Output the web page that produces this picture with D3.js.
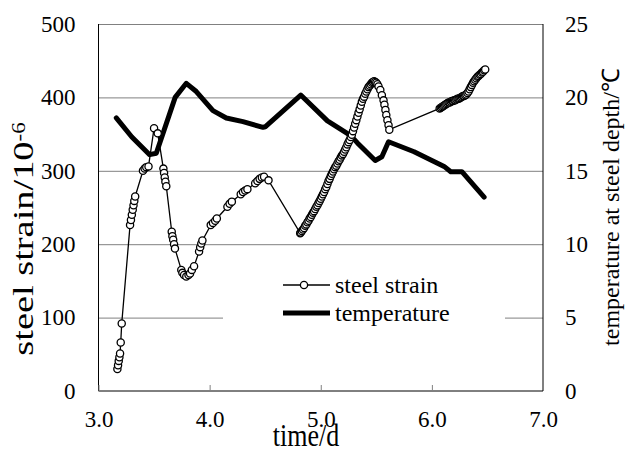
<!DOCTYPE html>
<svg width="625" height="452"></svg>
<script src="https://d3js.org/d3.v7.min.js"></script>
<script>
// steel strain readings [time/d, strain x10^-6]
var strain = [
  [3.170, 30], [3.176, 35], [3.182, 41], [3.188, 46], [3.194, 51], [3.200, 66], [3.209, 92],
  [3.284, 226], [3.292, 233], [3.300, 240], [3.308, 247], [3.315, 253], [3.322, 259], [3.330, 265],
  [3.400, 300], [3.415, 303], [3.430, 305], [3.450, 306],
  [3.500, 358], [3.533, 351],
  [3.584, 303], [3.590, 297], [3.596, 291], [3.602, 285], [3.610, 279],
  [3.659, 217], [3.665, 211], [3.672, 206], [3.680, 200], [3.688, 194],
  [3.745, 165], [3.755, 161], [3.770, 158], [3.790, 156], [3.810, 158], [3.824, 160], [3.840, 165], [3.860, 170],
  [3.905, 190], [3.915, 196], [3.925, 201], [3.935, 205],
  [4.010, 226], [4.030, 229], [4.050, 232], [4.065, 235],
  [4.160, 251], [4.180, 255], [4.200, 258],
  [4.280, 268], [4.300, 271], [4.320, 273], [4.340, 275],
  [4.410, 283], [4.430, 286], [4.450, 289], [4.470, 291], [4.490, 292],
  [4.530, 287],
  [4.815, 215], [4.82, 216], [4.83, 218], [4.84, 220], [4.85, 222], [4.86, 225], [4.87, 227],
  [4.88, 230], [4.89, 232], [4.90, 235], [4.91, 237], [4.92, 240], [4.93, 243], [4.94, 245],
  [4.95, 248], [4.96, 251], [4.97, 253], [4.98, 256], [4.99, 259], [5.00, 262], [5.01, 265],
  [5.02, 268], [5.03, 271], [5.04, 275], [5.05, 278], [5.06, 282], [5.07, 286], [5.08, 289],
  [5.09, 293], [5.10, 296], [5.11, 299], [5.12, 302], [5.13, 305], [5.14, 307], [5.15, 310],
  [5.16, 313], [5.17, 315], [5.18, 318], [5.19, 321], [5.20, 323], [5.21, 326], [5.22, 329],
  [5.23, 332], [5.24, 336], [5.25, 339], [5.26, 342], [5.27, 346], [5.28, 349], [5.29, 354],
  [5.30, 359], [5.31, 364], [5.32, 369], [5.33, 374], [5.34, 379], [5.35, 384], [5.36, 389],
  [5.37, 394], [5.38, 398], [5.39, 401], [5.40, 405], [5.41, 408], [5.42, 411], [5.43, 414],
  [5.44, 416], [5.45, 418], [5.46, 420], [5.47, 421], [5.48, 422], [5.49, 421], [5.50, 420],
  [5.51, 418], [5.52, 415],
  [5.536, 410], [5.550, 403], [5.565, 396], [5.573, 390], [5.582, 383], [5.590, 376],
  [5.600, 369], [5.610, 362], [5.617, 356],
  [6.07, 385], [6.08, 386], [6.09, 387], [6.10, 388], [6.11, 389], [6.12, 390], [6.13, 391],
  [6.14, 392], [6.15, 393], [6.16, 393], [6.17, 394], [6.18, 395], [6.19, 395], [6.20, 396],
  [6.21, 396], [6.22, 397], [6.23, 398], [6.24, 398], [6.25, 399], [6.26, 400], [6.27, 401],
  [6.28, 402], [6.29, 402], [6.30, 403], [6.31, 404], [6.32, 406], [6.33, 408], [6.34, 411],
  [6.35, 414], [6.36, 417], [6.37, 420], [6.38, 422], [6.39, 424], [6.40, 426], [6.41, 428],
  [6.42, 429], [6.43, 431], [6.44, 432], [6.45, 434], [6.46, 435], [6.47, 437], [6.48, 438]
];

// temperature at steel depth [time/d, degC]
var temperature = [
  [3.16, 18.6], [3.30, 17.3], [3.46, 16.1], [3.52, 16.2], [3.69, 20.0], [3.79, 20.96],
  [3.88, 20.4], [4.03, 19.1], [4.15, 18.6], [4.30, 18.35], [4.48, 17.96], [4.50, 18.0],
  [4.82, 20.16], [5.06, 18.4], [5.27, 17.4], [5.33, 16.9], [5.49, 15.7], [5.55, 15.96],
  [5.61, 16.98], [5.84, 16.3], [6.11, 15.3], [6.17, 14.94], [6.27, 14.94], [6.47, 13.2]
];

var timeTicks = [3, 4, 5, 6, 7];
var strainTicks = [0, 100, 200, 300, 400, 500];
var tempTicks = [0, 5, 10, 15, 20, 25];

var serif = "'Liberation Serif'";

d3.select("body").style("margin", "0").style("background", "#fff");

var svg = d3.select("svg"),
    x0 = 98.5, x1 = 543, y0 = 391, y1 = 24;

var x = d3.scaleLinear().domain([3, 7]).range([x0, x1]);
var yL = d3.scaleLinear().domain([0, 500]).range([y0, y1]);
var yR = d3.scaleLinear().domain([0, 25]).range([y0, y1]);

svg.append("rect").attr("width", 625).attr("height", 452).attr("fill", "#fff");

// gridlines
var grid = svg.append("g")
    .attr("transform", "translate(" + x0 + ",0)")
    .call(d3.axisLeft(yL).tickValues(strainTicks.slice(1)).tickSize(-(x1 - x0)).tickFormat(""));
grid.select(".domain").remove();
grid.selectAll("line").attr("stroke", "#808080");

// legend background hides the gridline behind it
svg.append("rect")
    .attr("x", 223).attr("y", 258)
    .attr("width", 282).attr("height", 84)
    .attr("fill", "#fff");

// frame
svg.append("line").attr("x1", x0).attr("x2", x0).attr("y1", y1).attr("y2", y0).attr("stroke", "#000");
svg.append("line").attr("x1", x1).attr("x2", x1).attr("y1", y1).attr("y2", y0).attr("stroke", "#000");
svg.append("line").attr("x1", x0).attr("x2", x1).attr("y1", y0).attr("y2", y0).attr("stroke", "#000");

// bottom axis
var xAxis = svg.append("g")
    .attr("transform", "translate(0," + y0 + ")")
    .call(d3.axisBottom(x).tickValues(timeTicks).tickSize(-6).tickFormat(d3.format(".1f")));
xAxis.select(".domain").remove();
xAxis.selectAll("line").attr("stroke", "#808080");

// left axis
var leftAxis = svg.append("g")
    .attr("transform", "translate(" + x0 + ",0)")
    .call(d3.axisLeft(yL).tickValues(strainTicks).tickSize(0).tickPadding(23));
leftAxis.select(".domain").remove();

// right axis
var rightAxis = svg.append("g")
    .attr("transform", "translate(" + x1 + ",0)")
    .call(d3.axisRight(yR).tickValues(tempTicks).tickSize(0).tickPadding(22));
rightAxis.select(".domain").remove();

[xAxis, leftAxis, rightAxis].forEach(function(a) {
  a.attr("font-family", null).attr("font-size", null);
  a.selectAll("text")
      .style("font-family", serif)
      .attr("font-size", 23)
      .attr("fill", "#000");
});
xAxis.selectAll(".tick text").attr("y", 36).attr("dy", 0);

// temperature line
var tempLine = d3.line()
    .x(function(d) { return x(d[0]); })
    .y(function(d) { return yR(d[1]); });

svg.append("path")
    .datum(temperature)
    .attr("fill", "none")
    .attr("stroke", "#000")
    .attr("stroke-width", 5)
    .attr("stroke-linejoin", "round")
    .attr("stroke-linecap", "round")
    .attr("d", tempLine);

// steel strain line with markers
var strainLine = d3.line()
    .x(function(d) { return x(d[0]); })
    .y(function(d) { return yL(d[1]); });

svg.append("path")
    .datum(strain)
    .attr("fill", "none")
    .attr("stroke", "#000")
    .attr("stroke-width", 1.3)
    .attr("d", strainLine);

svg.append("g")
  .selectAll("circle")
  .data(strain)
  .enter().append("circle")
    .attr("cx", function(d) { return x(d[0]); })
    .attr("cy", function(d) { return yL(d[1]); })
    .attr("r", 3.6)
    .attr("fill", "#fff")
    .attr("stroke", "#000")
    .attr("stroke-width", 1.3);

// legend
var legend = svg.append("g");
legend.append("line")
    .attr("x1", 283).attr("x2", 330).attr("y1", 285).attr("y2", 285)
    .attr("stroke", "#000").attr("stroke-width", 1.3);
legend.append("circle")
    .attr("cx", 304).attr("cy", 285).attr("r", 3.6)
    .attr("fill", "#fff").attr("stroke", "#000").attr("stroke-width", 1.3);
legend.append("text")
    .attr("x", 335).attr("y", 293)
    .style("font-family", serif)
    .attr("font-size", 24)
    .text("steel strain");
legend.append("line")
    .attr("x1", 283).attr("x2", 330).attr("y1", 313).attr("y2", 313)
    .attr("stroke", "#000").attr("stroke-width", 5);
legend.append("text")
    .attr("x", 335).attr("y", 321)
    .style("font-family", serif)
    .attr("font-size", 24)
    .text("temperature");

// axis titles
svg.append("text")
    .attr("transform", "translate(306,446) scale(1,1.2)")
    .attr("text-anchor", "middle")
    .style("font-family", serif)
    .attr("font-size", 26)
    .text("time/d");

var leftTitle = svg.append("text")
    .attr("transform", "translate(33,239) rotate(-90) scale(1.28,1)")
    .attr("text-anchor", "middle")
    .style("font-family", serif)
    .attr("font-size", 30);
leftTitle.append("tspan").text("steel strain/10");
leftTitle.append("tspan").attr("dy", "-0.45em").attr("font-size", 18).text("-6");

svg.append("text")
    .attr("transform", "translate(619,207) rotate(-90)")
    .attr("text-anchor", "middle")
    .style("font-family", serif)
    .attr("font-size", 24)
    .text("temperature at steel depth/\u2103");
</script>
